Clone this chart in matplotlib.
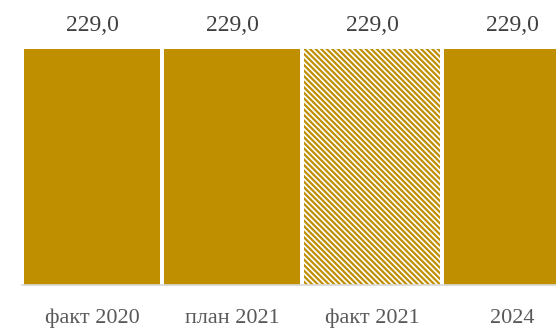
import matplotlib.pyplot as plt

categories = ['факт 2020', 'план 2021', 'факт 2021', '2024']
values = [229.0, 229.0, 229.0, 229.0]
hatched = [False, False, True, False]

gold = '#BF8F00'
value_color = '#404040'
label_color = '#595959'

plt.rcParams['font.family'] = ['Liberation Serif', 'DejaVu Serif']
plt.rcParams['hatch.linewidth'] = 1.6

fig = plt.figure(figsize=(5.56, 3.30), dpi=100)
ax = fig.add_axes([22 / 556, 45 / 330, 1 - 22 / 556, (285 - 49) / 330])

x = list(range(len(categories)))
for xi, v, h in zip(x, values, hatched):
    if h:
        ax.bar(xi, v, width=0.971, color='white', edgecolor=gold,
               hatch='\\' * 6, linewidth=0)
    else:
        ax.bar(xi, v, width=0.971, color=gold, linewidth=0)
    ax.text(xi, v + 23, f'{v:.1f}'.replace('.', ','), ha='center',
            va='center', fontsize=17, color=value_color, clip_on=False)

ax.set_xlim(-0.5, 3.314)
ax.set_ylim(0, 229)
ax.set_xticks(x)
ax.set_xticklabels(categories, fontsize=16, color=label_color)
ax.tick_params(axis='x', length=0, pad=17)
ax.set_yticks([])
for s in ['top', 'right', 'left']:
    ax.spines[s].set_visible(False)
ax.spines['bottom'].set_color('#D9D9D9')
ax.spines['bottom'].set_linewidth(1.2)

fig.savefig('out.png', dpi=100)
